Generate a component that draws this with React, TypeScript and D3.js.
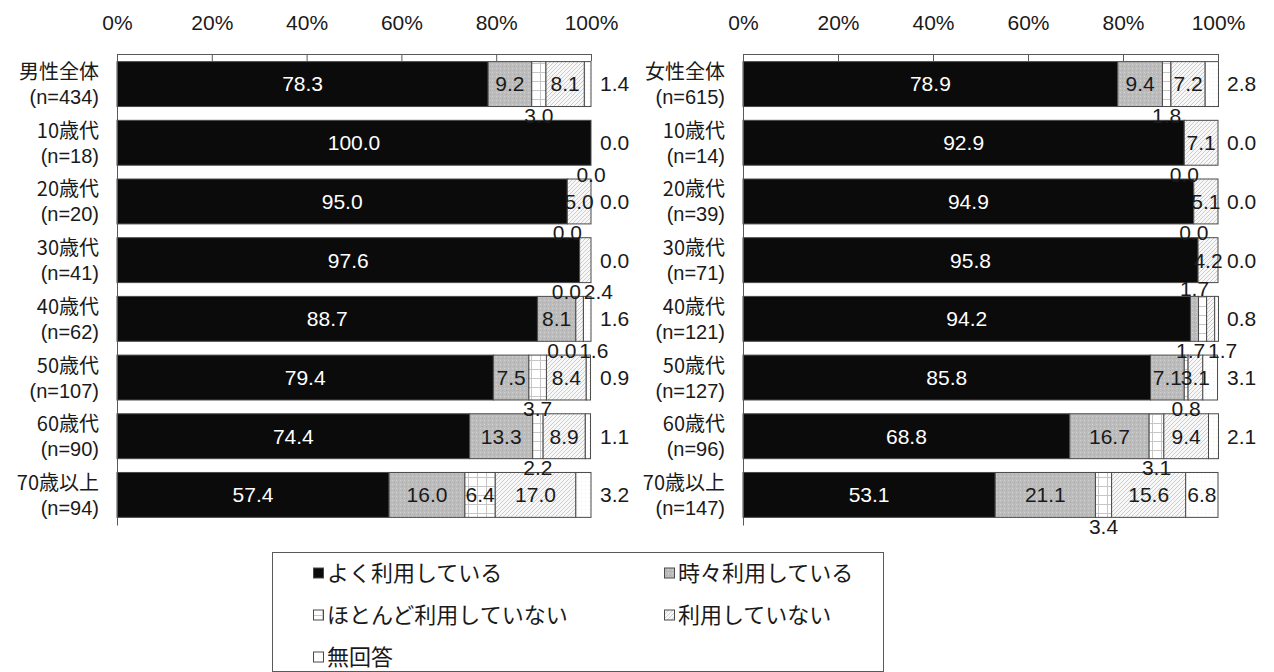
import { useEffect, useRef } from "react";
import * as d3 from "d3";

// series (stack order, left to right)
const seriesNames = [
  "よく利用している",
  "時々利用している",
  "ほとんど利用していない",
  "利用していない",
  "無回答",
];
const tickValues = [0, 20, 40, 60, 80, 100];

// male panel
const maleGroups = ["男性全体", "10歳代", "20歳代", "30歳代", "40歳代", "50歳代", "60歳代", "70歳以上"];
const maleCounts = ["(n=434)", "(n=18)", "(n=20)", "(n=41)", "(n=62)", "(n=107)", "(n=90)", "(n=94)"];
const maleOften = [78.3, 100.0, 95.0, 97.6, 88.7, 79.4, 74.4, 57.4];
const maleSometimes = [9.2, 0.0, 0.0, 0.0, 8.1, 7.5, 13.3, 16.0];
const maleRarely = [3.0, 0.0, 0.0, 0.0, 0.0, 3.7, 2.2, 6.4];
const maleNever = [8.1, 0.0, 5.0, 2.4, 1.6, 8.4, 8.9, 17.0];
const maleNoAnswer = [1.4, 0.0, 0.0, 0.0, 1.6, 0.9, 1.1, 3.2];

// female panel
const femaleGroups = ["女性全体", "10歳代", "20歳代", "30歳代", "40歳代", "50歳代", "60歳代", "70歳以上"];
const femaleCounts = ["(n=615)", "(n=14)", "(n=39)", "(n=71)", "(n=121)", "(n=127)", "(n=96)", "(n=147)"];
const femaleOften = [78.9, 92.9, 94.9, 95.8, 94.2, 85.8, 68.8, 53.1];
const femaleSometimes = [9.4, 0.0, 0.0, 0.0, 1.7, 7.1, 16.7, 21.1];
const femaleRarely = [1.8, 0.0, 0.0, 0.0, 1.7, 0.8, 3.1, 3.4];
const femaleNever = [7.2, 7.1, 5.1, 4.2, 1.7, 3.1, 9.4, 15.6];
const femaleNoAnswer = [2.8, 0.0, 0.0, 0.0, 0.8, 3.1, 2.1, 6.8];

const FONT = '"Liberation Sans", Arial, "Noto Sans CJK JP", sans-serif';
const JP_FONT = '"Noto Sans CJK JP", "Liberation Sans", sans-serif';
const patternIds = ["pat-often", "pat-sometimes", "pat-rarely", "pat-never", "pat-none"];
const EDGE = "#4a4a4a";

function addPatterns(defs: any) {
  const make = (id: string, size: number, bg: string) => {
    const p = defs
      .append("pattern")
      .attr("id", id)
      .attr("patternUnits", "userSpaceOnUse")
      .attr("width", size)
      .attr("height", size);
    p.append("rect").attr("width", size).attr("height", size).attr("fill", bg);
    return p;
  };
  make(patternIds[0], 4, "#0b0b0b");

  // stippled grey
  const s = make(patternIds[1], 4, "#bcbcbc");
  s.append("rect").attr("x", 0).attr("y", 0).attr("width", 1).attr("height", 1).attr("fill", "#d2d2d2");
  s.append("rect").attr("x", 2).attr("y", 2).attr("width", 1).attr("height", 1).attr("fill", "#a9a9a9");

  // light grid
  const r = make(patternIds[2], 9, "#ffffff");
  r.append("path").attr("d", "M0 0.5H9M0.5 0V9").attr("stroke", "#c6c6c6").attr("stroke-width", 1);

  // diagonal hatch
  const n = make(patternIds[3], 4, "#f7f7f7");
  n.append("path")
    .attr("d", "M0 4L4 0M-1 1L1 -1M3 5L5 3")
    .attr("stroke", "#cdcdcd")
    .attr("stroke-width", 1);

  // faint dots
  const a = make(patternIds[4], 4, "#ffffff");
  a.append("rect").attr("x", 1).attr("y", 1).attr("width", 1).attr("height", 1).attr("fill", "#ececec");
}

// where a value label goes, by series and size (Excel-style nudging of tiny segments)
function placeLabel(k: number, v: number) {
  if (k === 0) return "center";
  if (k === 1) return v === 0 ? null : v < 3 ? "above" : "center";
  if (k === 2) return v < 5 ? "below" : "center";
  if (k === 3) return v === 0 ? null : v < 3 ? "below" : "center";
  return v >= 5 ? "center" : "right";
}

function drawPanel(svg: any, groups: string[], counts: string[], cols: number[][], xRange: [number, number]) {
  const rows = groups.map((g, i) => ({ group: g, n: counts[i], values: cols.map((c) => c[i]) }));

  const x = d3.scaleLinear().domain([0, 100]).range(xRange);
  const y = d3
    .scaleBand<string>()
    .domain(groups)
    .range([54, 525])
    .paddingInner(0.235)
    .paddingOuter(0.13);

  const stacked = d3
    .stack<any, number>()
    .keys(d3.range(seriesNames.length))
    .value((d, k) => d.values[k])(rows);

  const g = svg.append("g");

  // bars
  stacked.forEach((layer, k) => {
    g.append("g")
      .selectAll("rect")
      .data(layer)
      .join("rect")
      .attr("x", (d: any) => x(d[0]))
      .attr("y", (d: any) => y(d.data.group)!)
      .attr("width", (d: any) => Math.max(0, x(d[1]) - x(d[0])))
      .attr("height", y.bandwidth())
      .attr("fill", `url(#${patternIds[k]})`)
      .attr("stroke", EDGE)
      .attr("stroke-width", 1)
      .attr("display", (d: any) => (d[1] - d[0] > 0 ? null : "none"));
  });

  // top axis
  const top = g
    .append("g")
    .attr("transform", `translate(0,${y.range()[0]})`)
    .call(
      d3
        .axisTop(x)
        .tickValues(tickValues)
        .tickSize(-7)
        .tickSizeOuter(0)
        .tickPadding(24)
        .tickFormat((d: any) => `${d}%`)
    );
  top.select(".domain").attr("stroke", "#595959");
  top.selectAll(".tick line").attr("stroke", "#595959");
  top.selectAll(".tick text").attr("font-family", FONT).attr("font-size", 21).attr("fill", "#1a1a1a");

  // left axis line
  const left = g
    .append("g")
    .attr("transform", `translate(${xRange[0]},0)`)
    .call(d3.axisLeft(y).tickValues([]).tickSizeOuter(0));
  left.select(".domain").attr("stroke", "#595959");

  // category labels
  const cat = g
    .append("g")
    .selectAll("text")
    .data(rows)
    .join("text")
    .attr("text-anchor", "end")
    .attr("font-family", JP_FONT)
    .attr("font-size", 20)
    .attr("fill", "#1a1a1a");
  cat
    .append("tspan")
    .attr("x", xRange[0] - 18)
    .attr("y", (d: any) => y(d.group)! + y.bandwidth() / 2 - 12)
    .attr("dy", "0.35em")
    .text((d: any) => d.group);
  cat
    .append("tspan")
    .attr("x", xRange[0] - 18)
    .attr("y", (d: any) => y(d.group)! + y.bandwidth() / 2 + 13)
    .attr("dy", "0.35em")
    .attr("font-family", FONT)
    .text((d: any) => d.n);

  // value labels
  let labels: any[] = [];
  stacked.forEach((layer, k) => {
    layer.forEach((d: any, row: number) => {
      const v = d.data.values[k];
      const where = placeLabel(k, v);
      if (!where) return;
      const top0 = y(d.data.group)!;
      const mid = (x(d[0]) + x(d[1])) / 2;
      let lx = mid;
      let ly = top0 + y.bandwidth() / 2;
      let anchor = "middle";
      if (where === "above") ly = top0 - 8;
      if (where === "below") ly = top0 + y.bandwidth() + 9;
      if (where === "right") {
        lx = x(100) + 9;
        anchor = "start";
      }
      labels.push({ k, v, row, lx, ly, anchor, where });
    });
  });

  // spread colliding labels below the same bar around their mean position
  rows.forEach((_, row) => {
    const below = labels.filter((l) => l.row === row && l.where === "below").sort((a, b) => a.lx - b.lx);
    for (let i = 1; i < below.length; i++) {
      const a = below[i - 1];
      const b = below[i];
      if (b.lx - a.lx < 32) {
        const m = (a.lx + b.lx) / 2;
        a.lx = m - 16;
        b.lx = m + 16;
      }
    }
  });

  // a zero label above/below a bar that sits under another label is dropped, as Excel does
  const outside = (l: any) => l.where === "above" || l.where === "below";
  labels = labels.filter(
    (l) =>
      l.v !== 0 ||
      !outside(l) ||
      !labels.some(
        (o) => o !== l && o.v !== 0 && outside(o) && Math.abs(o.lx - l.lx) < 25 && Math.abs(o.ly - l.ly) < 14
      )
  );

  g.append("g")
    .selectAll("text")
    .data(labels)
    .join("text")
    .attr("x", (d: any) => d.lx)
    .attr("y", (d: any) => d.ly)
    .attr("dy", "0.35em")
    .attr("text-anchor", (d: any) => d.anchor)
    .attr("font-family", FONT)
    .attr("font-size", 21)
    .attr("fill", (d: any) => (d.k === 0 ? "#ffffff" : "#1a1a1a"))
    .text((d: any) => d.v.toFixed(1));
}

function drawLegend(svg: any) {
  const g = svg.append("g");
  g.append("rect")
    .attr("x", 272.5)
    .attr("y", 552.5)
    .attr("width", 611)
    .attr("height", 119)
    .attr("fill", "#ffffff")
    .attr("stroke", "#595959");

  const colX = [313, 664];
  const item = g
    .selectAll("g.item")
    .data(seriesNames)
    .join("g")
    .attr("class", "item")
    .attr("transform", (_: any, i: number) => `translate(${colX[i % 2]},${573 + Math.floor(i / 2) * 42})`);
  item
    .append("rect")
    .attr("x", 0.5)
    .attr("y", -5)
    .attr("width", 10)
    .attr("height", 10)
    .attr("fill", (_: any, i: number) => `url(#${patternIds[i]})`)
    .attr("stroke", EDGE);
  item
    .append("text")
    .attr("x", 14)
    .attr("dy", "0.35em")
    .attr("font-family", JP_FONT)
    .attr("font-size", 22)
    .attr("fill", "#1a1a1a")
    .text((d: string) => d);
}

export default function App() {
  const ref = useRef<SVGSVGElement>(null);

  useEffect(() => {
    const svg = d3.select(ref.current);
    svg.selectAll("*").remove();
    addPatterns(svg.append("defs"));

    drawPanel(
      svg,
      maleGroups,
      maleCounts,
      [maleOften, maleSometimes, maleRarely, maleNever, maleNoAnswer],
      [117, 591]
    );
    drawPanel(
      svg,
      femaleGroups,
      femaleCounts,
      [femaleOften, femaleSometimes, femaleRarely, femaleNever, femaleNoAnswer],
      [743, 1218]
    );
    drawLegend(svg);
  }, []);

  return (
    <svg
      ref={ref}
      width={1274}
      height={672}
      style={{ position: "absolute", left: 0, top: 0, background: "#ffffff", display: "block" }}
    />
  );
}
